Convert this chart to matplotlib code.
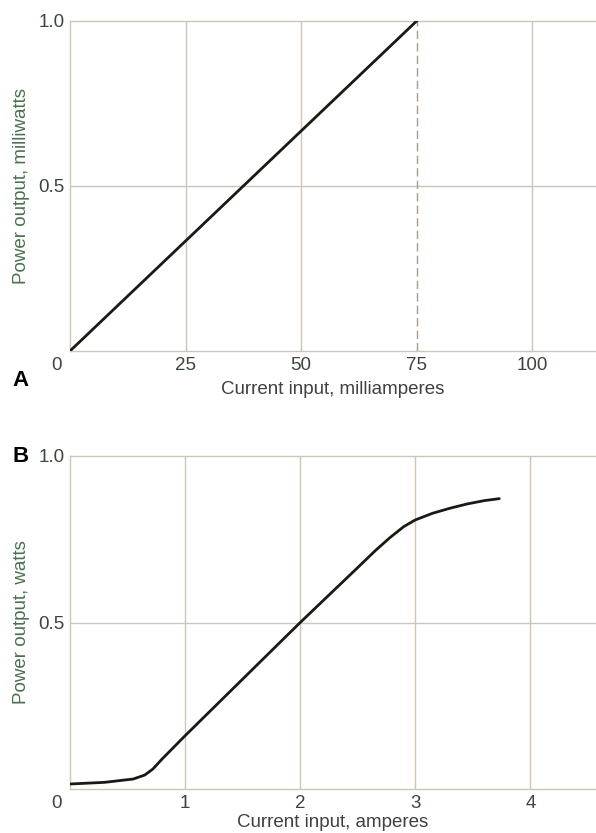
import matplotlib.pyplot as plt
from matplotlib.transforms import ScaledTranslation

# panel A: small signal, linear up to 75 mA
ma_current = [0, 75]
mw_power = [0, 1.0]
a_xticks = [25, 50, 75, 100]

# panel B: high power device
amp_current = [0, 0.3, 0.55, 0.65, 0.72, 0.8, 0.9, 1.0, 1.5, 2.0, 2.5, 2.65,
               2.78, 2.9, 3.0, 3.15, 3.3, 3.45, 3.6, 3.73]
watt_power = [0.015, 0.02, 0.03, 0.042, 0.06, 0.09, 0.125, 0.16, 0.33, 0.5,
              0.665, 0.715, 0.755, 0.788, 0.808, 0.828, 0.843, 0.856, 0.866, 0.872]
b_xticks = [1, 2, 3, 4]

GRID = '#cfc6b8'
TICK = '#3c463c'
YLAB = '#4a7050'

plt.rcParams['font.family'] = ['Liberation Sans', 'DejaVu Sans']


def style_axes(ax, xmax, xticks, xlabel, ylabel, xpad):
    ax.set_xlim(0, xmax)
    ax.set_ylim(0, 1.0)
    ax.set_xticks([0] + xticks)
    ax.set_xticklabels(['0'] + [str(t) for t in xticks])
    ax.set_yticks([0.5, 1.0])
    ax.set_yticklabels(['0.5', '1.0'])
    for s in ['left', 'top', 'bottom']:
        ax.spines[s].set_color(GRID)
        ax.spines[s].set_linewidth(1.0)
    ax.spines['right'].set_visible(False)
    ax.tick_params(length=0, labelsize=13.5, colors=TICK)
    ax.tick_params(axis='x', pad=4)
    ax.tick_params(axis='y', pad=4)
    # the origin label sits left of the corner
    zero = ax.get_xticklabels()[0]
    zero.set_transform(zero.get_transform() +
                       ScaledTranslation(-13 / 100, 0, ax.figure.dpi_scale_trans))
    ax.axhline(0.5, color=GRID, lw=1.0, zorder=1)
    ax.set_xlabel(xlabel, fontsize=13.5, color='#404040', labelpad=xpad)
    ax.set_ylabel(ylabel, fontsize=13.5, color=YLAB, labelpad=6)


fig = plt.figure(figsize=(5.96, 8.33), dpi=100)

ax1 = fig.add_axes([70 / 596, 1 - 351 / 833, 1 - 70 / 596, 330 / 833])
for x in [25, 50, 100]:
    ax1.axvline(x, color=GRID, lw=1.0, zorder=1)
ax1.plot([75, 75], [0, 1.0], color='#a89c8c', lw=1.0, ls=(0, (6, 3)), zorder=2)
ax1.plot(ma_current, mw_power, color='#1a1a14', lw=2.0, zorder=3)
style_axes(ax1, 113.8, a_xticks, 'Current input, milliamperes',
           'Power output, milliwatts', 5)
fig.text(12 / 596, 1 - 380 / 833, 'A', fontsize=16, fontweight='bold',
         va='center', ha='left')

ax2 = fig.add_axes([70 / 596, 1 - 789 / 833, 1 - 70 / 596, 333 / 833])
for x in b_xticks:
    ax2.axvline(x, color=GRID, lw=1.0, zorder=1)
ax2.plot(amp_current, watt_power, color='#1a1a14', lw=2.0, zorder=3,
         solid_capstyle='round')
style_axes(ax2, 4.57, b_xticks, 'Current input, amperes',
           'Power output, watts', 1.5)
fig.text(12 / 596, 1 - 456 / 833, 'B', fontsize=16, fontweight='bold',
         va='center', ha='left')

fig.savefig('out.png', dpi=100)
